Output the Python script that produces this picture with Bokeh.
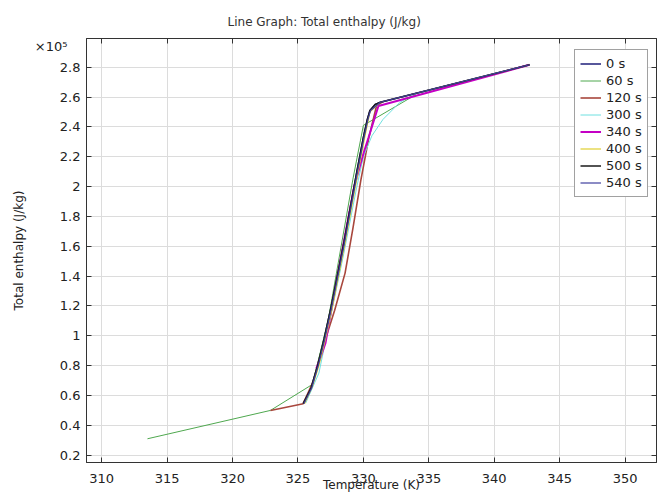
from bokeh.plotting import figure
from bokeh.models import (Legend, LegendItem, LinearAxis, Range1d, FixedTicker,
                          CustomJSTickFormatter)
from bokeh.embed import file_html
from bokeh.resources import INLINE

# ---------------- data (Temperature K, Total enthalpy J/kg) ----------------
x_ticks = [310, 315, 320, 325, 330, 335, 340, 345, 350]
y_ticks = [20000, 40000, 60000, 80000, 100000, 120000, 140000, 160000, 180000,
           200000, 220000, 240000, 260000, 280000]
y_scale_label = "×10⁵"

series_names = ["0 s", "60 s", "120 s", "300 s", "340 s", "400 s", "500 s", "540 s"]
series_colors = ["#1f1f7a", "#4fa84f", "#a8473d", "#6fe0e0", "#c400c4", "#e0cf30", "#1a1a1a", "#40409e"]
series_widths = [1.5, 1.0, 1.6, 1.0, 2.0, 1.2, 1.5, 1.2]

T_0 = [325.4, 326.0, 326.5, 327.0, 327.5, 328.0, 328.5, 329.0, 329.5, 330.0, 330.3, 330.5, 330.9, 331.3, 342.7]
H_0 = [54500, 65000, 80000, 98000, 118000, 140000, 162000, 186000, 210000, 233000, 245000, 251000, 255000, 256500, 281600]

T_60 = [313.5, 322.9, 326.1, 327.3, 328.3, 329.2, 330.0, 333.7, 334.0]
H_60 = [31000, 50000, 67400, 110000, 160000, 205000, 241000, 260000, 262000]

T_120 = [322.9, 325.4, 326.2, 327.0, 327.8, 328.6, 329.2, 329.8, 330.4, 331.0, 331.5]
H_120 = [50000, 54500, 70000, 95000, 117000, 142000, 172000, 204000, 232000, 254000, 257000]

T_300 = [325.6, 326.6, 327.5, 328.5, 329.5, 330.0, 330.65, 331.5, 332.8, 333.95, 342.7]
H_300 = [55000, 75000, 113000, 155000, 200000, 220000, 234000, 245000, 256500, 262000, 281600]

T_340 = [326.4, 326.7, 327.1, 327.6, 328.4, 329.3, 330.0, 330.4, 331.15, 342.7]
H_340 = [78000, 85000, 95000, 120000, 158000, 200000, 222000, 233000, 254000, 281600]

T_400 = [325.5, 326.1, 326.6, 327.1, 327.6, 328.1, 328.6, 329.1, 329.6, 330.1, 330.5, 331.3, 342.7]
H_400 = [54500, 66000, 80000, 98000, 118000, 140000, 162000, 186000, 210000, 233000, 250000, 256500, 281600]

T_500 = [325.4, 326.0, 326.5, 327.0, 327.5, 328.0, 328.5, 329.0, 329.5, 330.0, 330.3, 330.5, 330.9, 331.3, 342.7]
H_500 = [54500, 65000, 80000, 98000, 118000, 140000, 162000, 186000, 210000, 233000, 245000, 251000, 255000, 256500, 281600]

T_540 = [325.45, 326.05, 326.55, 327.05, 327.55, 328.05, 328.55, 329.05, 329.55, 330.05, 330.35, 330.55, 331.3, 342.7]
H_540 = [54500, 65000, 80000, 98000, 118000, 140000, 162000, 186000, 210000, 233000, 245000, 251000, 256500, 281600]

series_T = [T_0, T_60, T_120, T_300, T_340, T_400, T_500, T_540]
series_H = [H_0, H_60, H_120, H_300, H_340, H_400, H_500, H_540]

FONT = "DejaVu Sans"

p = figure(width=658, height=494,
           x_range=Range1d(308.84, 352.4), y_range=Range1d(15100, 299200),
           output_backend="svg", toolbar_location=None,
           min_border_left=86, min_border_right=2, min_border_top=38, min_border_bottom=32,
           background_fill_color="white", border_fill_color="white")

p.title.text = "Line Graph: Total enthalpy (J/kg)"
p.title.align = "left"
p.title.offset = 141
p.title.text_font = FONT
p.title.text_font_size = "12px"
p.title.text_font_style = "normal"
p.title.text_color = "#333333"
p.title.standoff = 20

p.outline_line_color = "#333333"
p.outline_line_width = 1

# axes
p.xaxis.ticker = FixedTicker(ticks=x_ticks)
p.yaxis.ticker = FixedTicker(ticks=y_ticks)
p.yaxis.formatter = CustomJSTickFormatter(code="return String(Math.round(tick/1e4)/10);")
for ax in (p.xaxis[0], p.yaxis[0]):
    ax.major_tick_in = 5
    ax.major_tick_out = 0
    ax.minor_tick_in = 0
    ax.minor_tick_out = 0
    ax.axis_line_color = "#333333"
    ax.major_tick_line_color = "#333333"
    ax.major_label_text_font = FONT
    ax.major_label_text_font_size = "13px"
    ax.major_label_text_color = "#222222"
    ax.axis_label_text_font = FONT
    ax.axis_label_text_font_size = "12px"
    ax.axis_label_text_font_style = "normal"
    ax.axis_label_text_color = "#222222"

p.xaxis.axis_label = "Temperature (K)"
p.xaxis.major_label_standoff = 11
p.xaxis.axis_label_standoff = -8
p.yaxis.major_label_standoff = 6

# outer left axis: carries the "×10⁵" multiplier and the axis title
outer = LinearAxis(ticker=FixedTicker(ticks=[293900]),
                   formatter=CustomJSTickFormatter(code="return '%s';" % y_scale_label),
                   axis_label="Total enthalpy (J/kg)")
outer.axis_line_color = None
outer.major_tick_line_color = None
outer.minor_tick_line_color = None
outer.major_tick_in = 0
outer.major_tick_out = 0
outer.major_label_standoff = -11
outer.major_label_text_font = FONT
outer.major_label_text_font_size = "13px"
outer.major_label_text_color = "#222222"
outer.axis_label_text_font = FONT
outer.axis_label_text_font_size = "12px"
outer.axis_label_text_font_style = "normal"
outer.axis_label_text_color = "#222222"
outer.axis_label_standoff = 6
p.add_layout(outer, "left")

# top and right axes (ticks only)
top = LinearAxis(ticker=FixedTicker(ticks=x_ticks),
                 formatter=CustomJSTickFormatter(code="return '';"))
right = LinearAxis(ticker=FixedTicker(ticks=y_ticks),
                   formatter=CustomJSTickFormatter(code="return '';"))
for ax in (top, right):
    ax.major_tick_in = 5
    ax.major_tick_out = 0
    ax.minor_tick_in = 0
    ax.minor_tick_out = 0
    ax.axis_line_color = "#333333"
    ax.major_tick_line_color = "#333333"
    ax.major_label_text_font_size = "1px"
    ax.major_label_standoff = 0
p.add_layout(top, "above")
p.add_layout(right, "right")

p.xgrid.ticker = FixedTicker(ticks=x_ticks)
p.ygrid.ticker = FixedTicker(ticks=y_ticks)
p.xgrid.grid_line_color = "#dcdcdc"
p.ygrid.grid_line_color = "#dcdcdc"

items = []
for name, col, lw, T, H in zip(series_names, series_colors, series_widths, series_T, series_H):
    r = p.line(T, H, line_color=col, line_width=lw)
    items.append(LegendItem(label=name, renderers=[r]))

legend = Legend(items=items, location=(488, 265),
                label_text_font=FONT, label_text_font_size="13px", label_text_color="#222222",
                glyph_width=21, glyph_height=17, label_height=17, label_standoff=5,
                padding=5, spacing=0, margin=0,
                border_line_color="#444444", border_line_width=1.5,
                background_fill_color="white", background_fill_alpha=1.0)
p.add_layout(legend)

open("out.html", "w").write(file_html(p, INLINE))
